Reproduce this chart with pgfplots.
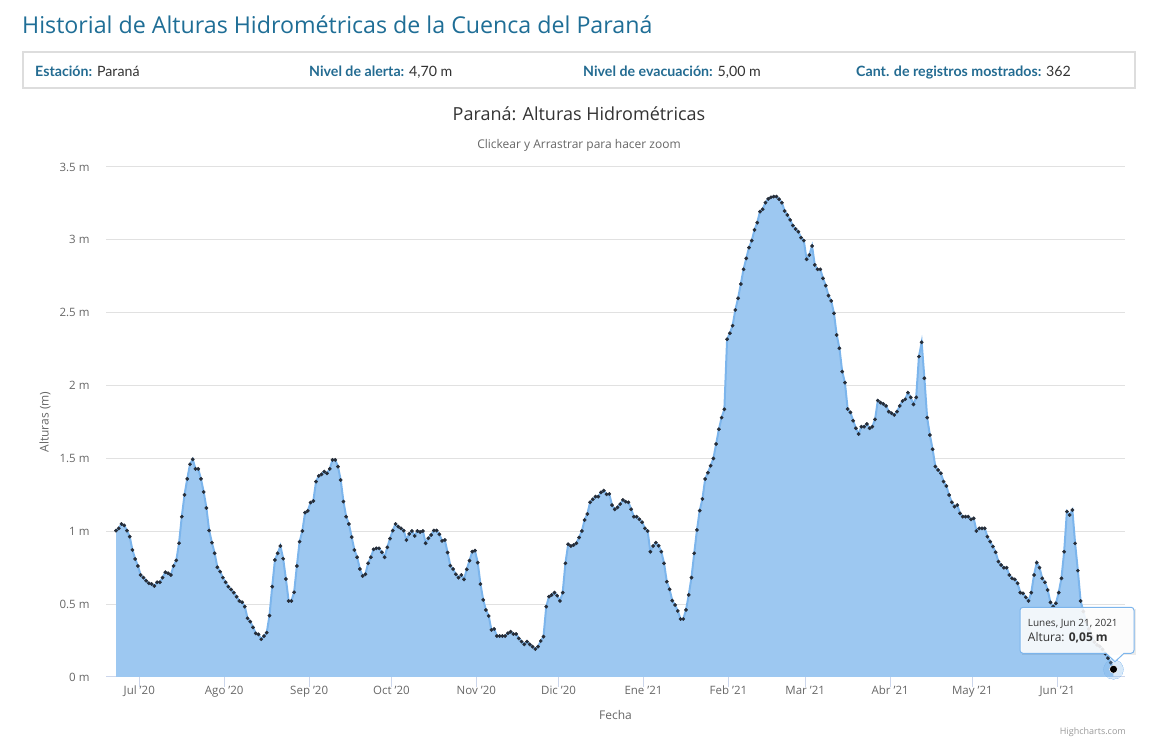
\documentclass[border=0pt]{standalone}
\usepackage{pgfplots}
\pgfplotsset{compat=1.18}
\usepackage{pgfplotstable}
\usepackage{fontspec}
\setmainfont{Open Sans}
\newfontfamily\headfont{Lato}
\definecolor{titleblue}{RGB}{31,110,150}
\definecolor{labelblue}{RGB}{35,107,145}
\definecolor{valgray}{RGB}{51,51,51}
\definecolor{boxgray}{RGB}{221,221,221}
\definecolor{gridgray}{RGB}{225,225,225}
\definecolor{axisgray}{RGB}{204,214,235}
\definecolor{ticklab}{RGB}{102,102,102}
\definecolor{areafill}{RGB}{157,200,241}
\definecolor{linecol}{RGB}{124,181,236}
\definecolor{markcol}{RGB}{38,45,56}

\pgfplotstableread[row sep=\\]{
y\\
1.005\\ 1.02\\ 1.05\\ 1.04\\ 1.005\\ 0.963\\ 0.872\\ 0.81\\ 0.762\\ 0.70\\
0.682\\ 0.661\\ 0.643\\ 0.638\\ 0.625\\ 0.65\\ 0.65\\ 0.682\\ 0.719\\ 0.712\\
0.70\\ 0.762\\ 0.80\\ 0.918\\ 1.10\\ 1.25\\ 1.36\\ 1.46\\ 1.494\\ 1.428\\
1.428\\ 1.36\\ 1.27\\ 1.16\\ 1.005\\ 0.922\\ 0.849\\ 0.753\\ 0.723\\ 0.682\\
0.65\\ 0.62\\ 0.60\\ 0.579\\ 0.551\\ 0.522\\ 0.513\\ 0.483\\ 0.403\\ 0.38\\
0.341\\ 0.30\\ 0.293\\ 0.259\\ 0.281\\ 0.304\\ 0.421\\ 0.62\\ 0.803\\ 0.849\\
0.899\\ 0.812\\ 0.673\\ 0.522\\ 0.522\\ 0.581\\ 0.762\\ 0.929\\ 1.002\\ 1.128\\
1.14\\ 1.197\\ 1.208\\ 1.341\\ 1.38\\ 1.391\\ 1.41\\ 1.398\\ 1.428\\ 1.49\\
1.49\\ 1.444\\ 1.352\\ 1.204\\ 1.10\\ 1.05\\
0.96\\ 0.872\\ 0.822\\ 0.741\\ 0.693\\ 0.705\\ 0.78\\ 0.822\\ 0.876\\ 0.883\\
0.883\\ 0.856\\ 0.822\\ 0.89\\ 0.95\\ 1.005\\ 1.05\\ 1.032\\ 1.02\\ 1.005\\
0.94\\ 0.982\\ 1.002\\ 0.968\\ 1.002\\ 0.995\\ 1.002\\ 0.918\\ 0.952\\ 0.975\\
1.005\\ 1.005\\ 0.979\\ 0.934\\ 0.94\\ 0.854\\ 0.764\\ 0.741\\ 0.705\\ 0.682\\
0.70\\ 0.67\\ 0.739\\ 0.799\\ 0.86\\ 0.867\\ 0.785\\ 0.638\\ 0.529\\ 0.46\\
0.419\\ 0.323\\ 0.33\\ 0.281\\ 0.281\\ 0.281\\ 0.281\\ 0.30\\ 0.311\\ 0.295\\
0.295\\ 0.265\\ 0.243\\ 0.224\\ 0.243\\ 0.224\\ 0.208\\ 0.192\\ 0.208\\ 0.247\\
0.277\\ 0.483\\ 0.551\\ 0.563\\ 0.579\\ 0.558\\ 0.522\\ 0.579\\ 0.78\\ 0.911\\
0.899\\ 0.906\\ 0.918\\ 0.957\\ 1.002\\ 1.078\\ 1.119\\ 1.199\\
1.219\\ 1.238\\ 1.238\\ 1.267\\ 1.279\\ 1.254\\ 1.256\\ 1.18\\ 1.151\\ 1.164\\
1.187\\ 1.215\\ 1.203\\ 1.199\\ 1.151\\ 1.10\\ 1.10\\ 1.082\\ 1.062\\ 1.02\\
1.002\\ 0.86\\ 0.899\\ 0.922\\ 0.901\\ 0.86\\ 0.78\\ 0.654\\ 0.602\\ 0.524\\
0.494\\ 0.453\\ 0.398\\ 0.398\\ 0.46\\ 0.563\\ 0.682\\ 0.849\\ 1.009\\ 1.142\\
1.222\\ 1.359\\ 1.402\\
1.45\\ 1.50\\ 1.599\\ 1.70\\ 1.78\\ 1.837\\ 2.318\\ 2.359\\ 2.411\\ 2.519\\
2.599\\ 2.697\\ 2.798\\ 2.873\\ 2.947\\ 2.995\\ 3.068\\ 3.118\\ 3.194\\ 3.21\\
3.255\\ 3.281\\ 3.292\\ 3.297\\ 3.297\\ 3.279\\ 3.255\\ 3.198\\ 3.171\\ 3.137\\
3.098\\ 3.075\\ 3.056\\ 3.015\\ 2.995\\ 2.867\\ 2.896\\ 2.958\\ 2.828\\ 2.798\\
2.798\\ 2.736\\ 2.686\\ 2.617\\ 2.581\\ 2.496\\ 2.347\\ 2.256\\ 2.096\\ 2.02\\
1.839\\ 1.816\\ 1.759\\ 1.707\\ 1.668\\ 1.718\\ 1.718\\ 1.736\\ 1.707\\ 1.718\\
1.768\\ 1.897\\
1.883\\ 1.874\\ 1.86\\ 1.821\\ 1.81\\ 1.798\\ 1.821\\ 1.86\\ 1.894\\ 1.906\\
1.951\\ 1.919\\ 1.871\\ 1.919\\ 2.199\\ 2.297\\ 2.05\\ 1.78\\ 1.661\\ 1.563\\
1.444\\ 1.421\\ 1.398\\ 1.341\\ 1.311\\ 1.249\\ 1.199\\ 1.169\\ 1.18\\ 1.123\\
1.10\\ 1.10\\
1.10\\ 1.082\\ 1.089\\ 1.002\\ 1.02\\ 1.02\\ 1.02\\ 0.963\\ 0.929\\ 0.895\\
0.856\\ 0.792\\ 0.769\\ 0.75\\ 0.75\\ 0.70\\ 0.677\\ 0.67\\ 0.643\\ 0.579\\
0.574\\ 0.547\\ 0.522\\ 0.579\\ 0.70\\ 0.785\\ 0.75\\ 0.677\\ 0.65\\ 0.597\\
0.512\\ 0.483\\ 0.506\\ 0.579\\ 0.677\\ 0.86\\ 1.135\\ 1.112\\ 1.146\\ 0.917\\
0.73\\ 0.522\\ 0.45\\ 0.38\\ 0.33\\ 0.28\\ 0.24\\ 0.22\\ 0.21\\ 0.19\\
0.16\\ 0.13\\ 0.098\\ 0.053\\
}\alturas

\begin{document}
\begin{tikzpicture}[x=1pt,y=1pt]
\useasboundingbox (0,0) rectangle (1163,747);
% page header
\node[anchor=base west, inner sep=0, text=titleblue, font=\fontsize{23.2}{27}\selectfont] at (22,713.7) {Historial de Alturas Hidrométricas de la Cuenca del Paraná};
\draw[boxgray, line width=2pt] (23,695) rectangle (1135,659);
\begin{scope}[every node/.style={anchor=base west, inner sep=0, font=\headfont\fontsize{14.2}{17}\selectfont}]
\node at (35,670) {\textcolor{labelblue}{\bfseries Estación:} \textcolor{valgray}{Paraná}};
\node at (309,670) {\textcolor{labelblue}{\bfseries Nivel de alerta:} \textcolor{valgray}{4,70 m}};
\node at (583,670) {\textcolor{labelblue}{\bfseries Nivel de evacuación:} \textcolor{valgray}{5,00 m}};
\node at (856,670) {\textcolor{labelblue}{\bfseries Cant. de registros mostrados:} \textcolor{valgray}{362}};
\end{scope}
% chart titles
\node[anchor=center, inner sep=0, text=valgray, font=\fontsize{18}{21}\selectfont] at (579,633) {Paraná: Alturas Hidrométricas};
\node[anchor=center, inner sep=0, text=ticklab, font=\fontsize{12}{14}\selectfont] at (579,602) {Clickear y Arrastrar para hacer zoom};

\begin{axis}[
  at={(106pt,70pt)}, anchor=south west,
  scale only axis, width=1019pt, height=510pt,
  xmin=-3.65, xmax=368.2, ymin=0, ymax=3.5,
  axis x line*=bottom, axis y line*=left,
  x axis line style={draw=axisgray, line width=1pt, -},
  y axis line style={draw=none},
  xtick={8.5,39.5,70.5,100.5,131.5,161.5,192.5,223.5,251.5,282.5,312.5,343.5},
  xticklabels={Jul '20,Ago '20,Sep '20,Oct '20,Nov '20,Dic '20,Ene '21,Feb '21,Mar '21,Abr '21,May '21,Jun '21},
  ytick={0,0.5,1,1.5,2,2.5,3,3.5},
  yticklabels={0 m,0.5 m,1 m,1.5 m,2 m,2.5 m,3 m,3.5 m},
  tick align=outside, major tick length=10pt,
  xtick style={draw=axisgray, line width=1pt},
  ytick style={draw=none},
  ymajorgrids, grid style={draw=gridgray, line width=1pt},
  tick label style={font=\fontsize{11.5}{13}\selectfont, text=ticklab},
  xticklabel style={anchor=base, yshift=-8pt},
  yticklabel style={anchor=east, xshift=-3pt},
  xlabel={Fecha}, ylabel={Alturas (m)},
  every axis x label/.style={at={(axis description cs:0.5,0)}, anchor=center, yshift=-38pt, font=\fontsize{12}{14}\selectfont, text=ticklab},
  every axis y label/.style={at={(axis description cs:0,0.5)}, xshift=-61pt, rotate=90, anchor=center, font=\fontsize{12}{14}\selectfont, text=ticklab},
  clip=false,
]
\addplot[draw=none, fill=areafill] table[x expr=\coordindex, y=y]{\alturas} \closedcycle;
\addplot[linecol, line width=2pt, mark=*, mark size=1.7pt, mark options={solid, draw=markcol, fill=markcol, line width=0.4pt}] table[x expr=\coordindex, y=y]{\alturas};
\addplot[only marks, mark=*, mark size=10pt, color=linecol, opacity=0.3, mark options={line width=0pt}] coordinates {(364,0.053)};
\addplot[only marks, mark=*, mark size=4pt, color=black, mark options={draw=white, fill=black, line width=0.5pt}] coordinates {(364,0.053)};
\end{axis}

% tooltip
\fill[black, opacity=0.08] (1022,91.7) rectangle (1136,137.7);
\draw[linecol, line width=1pt, fill=white, fill opacity=0.88]
  (1106,93.7) -- (1115,85.3) -- (1124,93.7) [rounded corners=3pt] -- (1134,93.7) -- (1134,139.7) -- (1020,139.7) -- (1020,93.7) [sharp corners] -- cycle;
\node[anchor=base west, inner sep=0, text=valgray, font=\fontsize{10}{12}\selectfont] at (1027.7,120.3) {Lunes, Jun 21, 2021};
\node[anchor=base west, inner sep=0, text=valgray, font=\fontsize{12}{14}\selectfont] at (1027.7,105.3) {Altura: \textbf{0,05 m}};
% credits
\node[anchor=base east, inner sep=0, text=gray!80, font=\fontsize{9}{11}\selectfont] at (1126,12) {Highcharts.com};
\end{tikzpicture}
\end{document}
